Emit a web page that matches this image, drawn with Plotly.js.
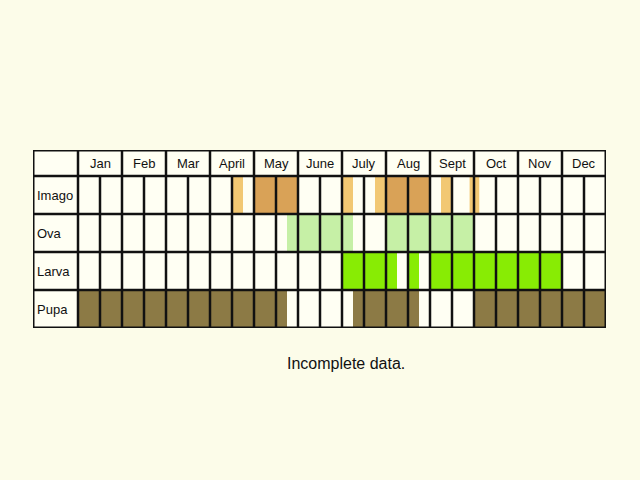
<html><head>
<script src="https://cdn.plot.ly/plotly-3.0.1.min.js"></script>
<style>
body { margin: 0; background: #fcfce9; }
#chart { width: 640px; height: 480px; }
</style>
</head>
<body>
<div id="chart"></div>
<script>
// months and life stages
const months = ['Jan', 'Feb', 'Mar', 'April', 'May', 'June', 'July', 'Aug', 'Sept', 'Oct', 'Nov', 'Dec'];
const stages = ['Imago', 'Ova', 'Larva', 'Pupa'];

// periods, in months from 1 Jan (0 = start of Jan, 12 = end of Dec)
const imagoFewStart = [3.5, 6.0, 6.75, 8.25, 8.9];
const imagoFewEnd   = [3.75, 6.25, 7.0, 8.5, 9.12];
const imagoManyStart = [4.0, 7.0];
const imagoManyEnd   = [5.0, 8.0];
const ovaStart = [4.75, 7.0];
const ovaEnd   = [6.25, 9.0];
const larvaStart = [6.0, 7.5, 8.0];
const larvaEnd   = [7.25, 7.75, 11.0];
const pupaStart = [0.0, 6.25, 9.0];
const pupaEnd   = [4.75, 7.75, 12.0];

// table geometry in axis units (one row = 1, one month = 1)
const labelCol = 45 / 44;
const headerH = 26 / 38;
const rowY = {Imago: 3.5, Ova: 2.5, Larva: 1.5, Pupa: 0.5};
const tableTop = 4 + headerH;

function bars(stage, starts, ends, color) {
  return {
    type: 'bar',
    orientation: 'h',
    y: starts.map(() => rowY[stage]),
    base: starts,
    x: starts.map((s, i) => ends[i] - s),
    width: starts.map(() => 1),
    marker: {color: color, line: {width: 0}},
    hoverinfo: 'skip',
    showlegend: false
  };
}

const data = [
  bars('Imago', imagoFewStart, imagoFewEnd, '#f2c873'),
  bars('Imago', imagoManyStart, imagoManyEnd, '#d9a257'),
  bars('Ova', ovaStart, ovaEnd, '#c6f0a6'),
  bars('Larva', larvaStart, larvaEnd, '#88ec04'),
  bars('Pupa', pupaStart, pupaEnd, '#8c7a45')
];

// grid lines
const shapes = [];
const ln = (x0, y0, x1, y1, w) => shapes.push({
  type: 'line', xref: 'x', yref: 'y', x0: x0, y0: y0, x1: x1, y1: y1,
  line: {color: '#111', width: w}
});
for (let h = 1; h < 24; h++) {
  const x = h / 2;
  ln(x, 0, x, h % 2 === 0 ? tableTop : 4, 2.5);
}
ln(0, 0, 0, tableTop, 2.5);
for (let r = 1; r <= 4; r++) ln(-labelCol, r, 12, r, 2.5);
shapes.push({type: 'rect', xref: 'x', yref: 'y', x0: -labelCol, y0: 0, x1: 12, y1: tableTop,
  line: {color: '#111', width: 3}});

const annotations = [];
months.forEach((m, i) => annotations.push({
  x: i + 0.5, y: 4 + headerH / 2, xref: 'x', yref: 'y', text: m, showarrow: false,
  font: {size: 13, color: '#111'}
}));
stages.forEach(s => annotations.push({
  x: -labelCol + 0.05, y: rowY[s], xref: 'x', yref: 'y', text: s, showarrow: false,
  xanchor: 'left', font: {size: 13, color: '#111'}
}));
annotations.push({
  x: 0.546, y: -0.197, xref: 'paper', yref: 'paper', text: 'Incomplete data.',
  showarrow: false, xanchor: 'center', yanchor: 'middle', font: {size: 16, color: '#111'}
});

const layout = {
  width: 640, height: 480,
  margin: {l: 33, r: 34, t: 150, b: 152},
  paper_bgcolor: '#fcfce9',
  plot_bgcolor: '#fffff3',
  font: {family: 'Liberation Sans, Arial, sans-serif'},
  barmode: 'overlay',
  xaxis: {range: [-labelCol, 12], showgrid: false, zeroline: false, showticklabels: false, ticks: '', fixedrange: true},
  yaxis: {range: [0, tableTop], showgrid: false, zeroline: false, showticklabels: false, ticks: '', fixedrange: true},
  shapes: shapes,
  annotations: annotations,
  showlegend: false
};

Plotly.newPlot('chart', data, layout, {staticPlot: true});
</script>
</body></html>
